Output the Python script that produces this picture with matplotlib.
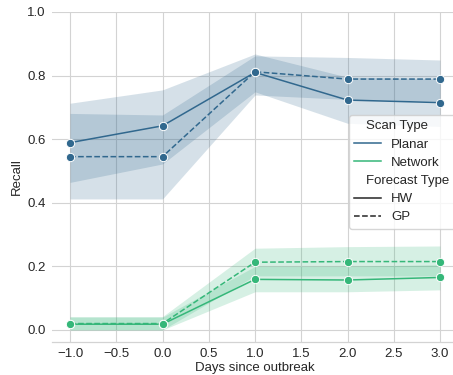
import matplotlib
matplotlib.use("Agg")
import matplotlib.pyplot as plt
from matplotlib.lines import Line2D
import numpy as np

days = [-1.0, 0.0, 1.0, 2.0, 3.0]

planar_hw = [0.589, 0.642, 0.810, 0.723, 0.715]
planar_hw_lo = [0.464, 0.522, 0.749, 0.650, 0.640]
planar_hw_hi = [0.713, 0.755, 0.868, 0.795, 0.790]
planar_gp = [0.545, 0.545, 0.812, 0.789, 0.789]
planar_gp_lo = [0.412, 0.412, 0.739, 0.725, 0.720]
planar_gp_hi = [0.681, 0.676, 0.862, 0.857, 0.849]

network_hw = [0.018, 0.018, 0.159, 0.157, 0.165]
network_hw_lo = [0.000, 0.000, 0.120, 0.120, 0.126]
network_hw_hi = [0.040, 0.040, 0.200, 0.200, 0.205]
network_gp = [0.020, 0.020, 0.213, 0.215, 0.215]
network_gp_lo = [0.000, 0.000, 0.170, 0.170, 0.170]
network_gp_hi = [0.042, 0.042, 0.257, 0.262, 0.264]

scan_types = ['Planar', 'Network']
forecast_types = ['HW', 'GP']
colors = ['#31688e', '#35b779']
styles = ['-', (0, (3.7, 1.6))]

plt.rcParams['font.family'] = ['Liberation Sans', 'DejaVu Sans']
plt.rcParams['font.size'] = 9.5
plt.rcParams['text.color'] = '.15'
plt.rcParams['axes.labelcolor'] = '.15'
plt.rcParams['xtick.color'] = '.15'
plt.rcParams['ytick.color'] = '.15'

fig = plt.figure(figsize=(4.53, 3.75), dpi=100)
ax = fig.add_axes([0.1137, 0.088, 0.8985, 0.88])

series = {
    ('Planar', 'HW'): (planar_hw, planar_hw_lo, planar_hw_hi),
    ('Planar', 'GP'): (planar_gp, planar_gp_lo, planar_gp_hi),
    ('Network', 'HW'): (network_hw, network_hw_lo, network_hw_hi),
    ('Network', 'GP'): (network_gp, network_gp_lo, network_gp_hi),
}

for i, s in enumerate(scan_types):
    for j, f in enumerate(forecast_types):
        m, lo, hi = series[(s, f)]
        ax.fill_between(days, lo, hi, color=colors[i], alpha=0.2, lw=0)
        ax.plot(days, m, color=colors[i], linestyle=styles[j], lw=1.1,
                marker='o', ms=6, mec='white', mew=0.7, zorder=3)

ax.set_xlim(-1.2, 3.2)
ax.set_ylim(-0.038, 1.0)
ax.set_xticks(np.arange(-1.0, 3.01, 0.5))
ax.set_yticks(np.arange(0.0, 1.01, 0.2))
ax.grid(True, color='#d3d3d3', lw=0.8)
ax.set_axisbelow(True)
ax.tick_params(length=0, pad=4)
for side in ['left', 'right', 'top']:
    ax.spines[side].set_visible(False)
ax.spines['bottom'].set_color('#d3d3d3')
ax.spines['bottom'].set_linewidth(0.9)
ax.set_xlabel('Days since outbreak', labelpad=2)
ax.set_ylabel('Recall', labelpad=3)

blank = Line2D([], [], color='none')
handles = [blank,
           Line2D([], [], color=colors[0], lw=1.1),
           Line2D([], [], color=colors[1], lw=1.1),
           blank,
           Line2D([], [], color='.15', lw=1.1, linestyle=styles[0]),
           Line2D([], [], color='.15', lw=1.1, linestyle=styles[1])]
labels = ['Scan Type'] + scan_types + ['Forecast Type'] + forecast_types
leg = ax.legend(handles, labels, loc='upper left', bbox_to_anchor=(0.731, 0.688),
                borderaxespad=0, frameon=True, fancybox=True, framealpha=0.8,
                edgecolor='#cccccc', handlelength=2.0, handletextpad=0.8,
                labelspacing=0.45, borderpad=0.4)
for k in [0, 3]:
    leg.get_texts()[k].set_x(-25)

fig.savefig('out.png', dpi=100)
